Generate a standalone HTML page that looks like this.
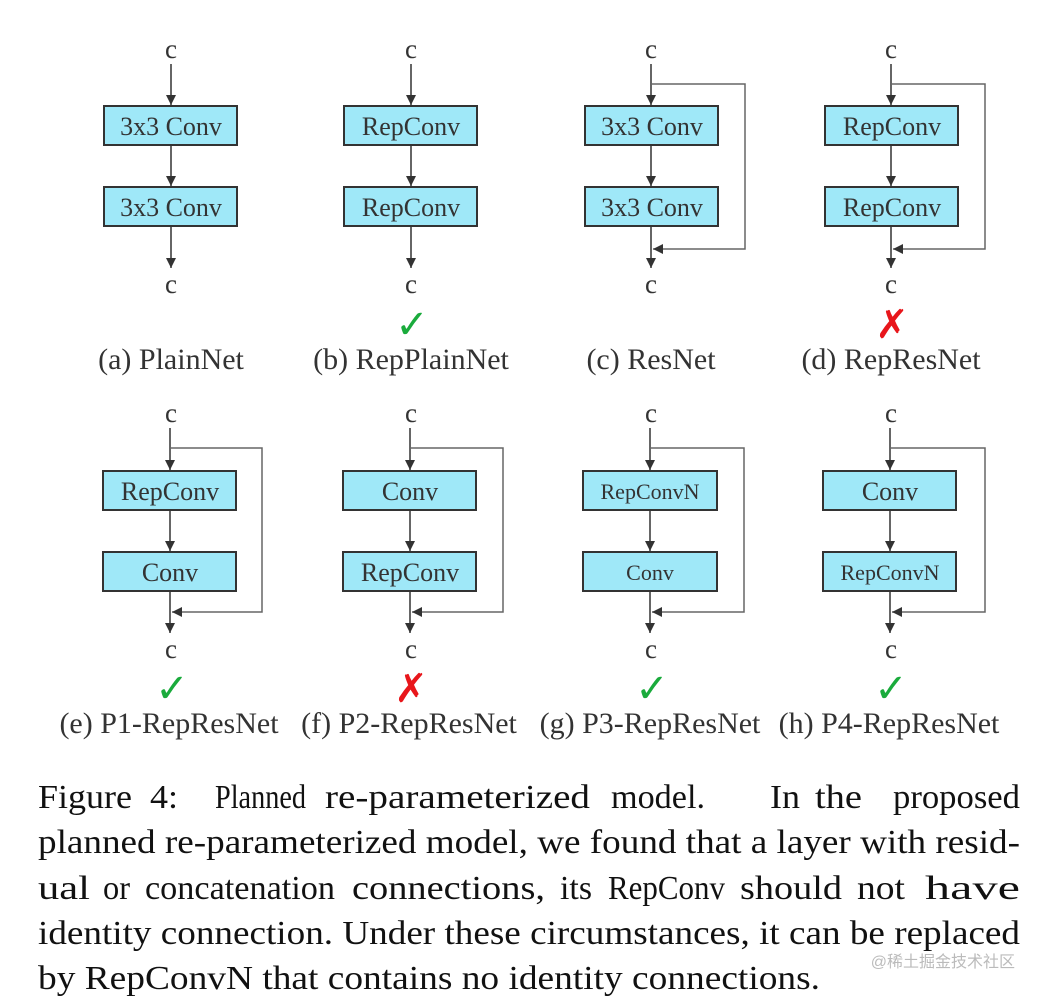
<!DOCTYPE html>
<html><head><meta charset="utf-8"><style>
html,body{margin:0;padding:0;background:#fff;}
svg{display:block;}
</style></head><body>
<svg width="1041" height="998" viewBox="0 0 1041 998" xmlns="http://www.w3.org/2000/svg">
<defs>
<marker id="ah" markerWidth="12" markerHeight="12" refX="10" refY="5" orient="auto" markerUnits="userSpaceOnUse">
<path d="M0,0 L10,5 L0,10 z" fill="#333"/>
</marker>
</defs>
<g font-family="'Liberation Serif', serif" fill="#333" stroke="none">
<g font-size="27" text-anchor="middle">
<text x="171" y="58">c</text><text x="411" y="58">c</text><text x="651" y="58">c</text><text x="891" y="58">c</text>
<text x="171" y="293">c</text><text x="411" y="293">c</text><text x="651" y="293">c</text><text x="891" y="293">c</text>
<text x="171" y="422">c</text><text x="411" y="422">c</text><text x="651" y="422">c</text><text x="891" y="422">c</text>
<text x="171" y="658">c</text><text x="411" y="658">c</text><text x="651" y="658">c</text><text x="891" y="658">c</text>
</g>
<g stroke="#333" stroke-width="1.5" fill="none" marker-end="url(#ah)">
<line x1="171" y1="64" x2="171" y2="105"/><line x1="171" y1="145" x2="171" y2="186"/><line x1="171" y1="226" x2="171" y2="268"/>
<line x1="411" y1="64" x2="411" y2="105"/><line x1="411" y1="145" x2="411" y2="186"/><line x1="411" y1="226" x2="411" y2="268"/>
<line x1="651" y1="64" x2="651" y2="105"/><line x1="651" y1="145" x2="651" y2="186"/><line x1="651" y1="226" x2="651" y2="268"/>
<line x1="891" y1="64" x2="891" y2="105"/><line x1="891" y1="145" x2="891" y2="186"/><line x1="891" y1="226" x2="891" y2="268"/>
<line x1="170" y1="428" x2="170" y2="470"/><line x1="170" y1="510" x2="170" y2="551"/><line x1="170" y1="591" x2="170" y2="633"/>
<line x1="410" y1="428" x2="410" y2="470"/><line x1="410" y1="510" x2="410" y2="551"/><line x1="410" y1="591" x2="410" y2="633"/>
<line x1="650" y1="428" x2="650" y2="470"/><line x1="650" y1="510" x2="650" y2="551"/><line x1="650" y1="591" x2="650" y2="633"/>
<line x1="890" y1="428" x2="890" y2="470"/><line x1="890" y1="510" x2="890" y2="551"/><line x1="890" y1="591" x2="890" y2="633"/>
</g>
<g stroke="#666" stroke-width="1.5" fill="none" marker-end="url(#ah)">
<polyline points="651,84 745,84 745,249 653,249"/>
<polyline points="891,84 985,84 985,249 893,249"/>
<polyline points="170,448 262,448 262,612 172,612"/>
<polyline points="410,448 503,448 503,612 412,612"/>
<polyline points="650,448 744,448 744,612 652,612"/>
<polyline points="890,448 985,448 985,612 892,612"/>
</g>
<g fill="#9fe8f8" stroke="#333" stroke-width="2">
<rect x="104" y="106" width="133" height="39"/><rect x="104" y="187" width="133" height="39"/>
<rect x="344" y="106" width="133" height="39"/><rect x="344" y="187" width="133" height="39"/>
<rect x="585" y="106" width="133" height="39"/><rect x="585" y="187" width="133" height="39"/>
<rect x="825" y="106" width="133" height="39"/><rect x="825" y="187" width="133" height="39"/>
<rect x="103" y="471" width="133" height="39"/><rect x="103" y="552" width="133" height="39"/>
<rect x="343" y="471" width="133" height="39"/><rect x="343" y="552" width="133" height="39"/>
<rect x="583" y="471" width="134" height="39"/><rect x="583" y="552" width="134" height="39"/>
<rect x="823" y="471" width="133" height="39"/><rect x="823" y="552" width="133" height="39"/>
</g>
<g font-size="26" text-anchor="middle">
<text x="171" y="135">3x3 Conv</text><text x="171" y="216">3x3 Conv</text>
<text x="411" y="135">RepConv</text><text x="411" y="216">RepConv</text>
<text x="652" y="135">3x3 Conv</text><text x="652" y="216">3x3 Conv</text>
<text x="892" y="135">RepConv</text><text x="892" y="216">RepConv</text>
<text x="170" y="500">RepConv</text><text x="170" y="581">Conv</text>
<text x="410" y="500">Conv</text><text x="410" y="581">RepConv</text>
<text x="650" y="499" font-size="22">RepConvN</text><text x="650" y="580" font-size="22">Conv</text>
<text x="890" y="500">Conv</text><text x="890" y="580" font-size="22">RepConvN</text>
</g>
<g font-size="30" text-anchor="middle">
<text x="171" y="369">(a) PlainNet</text>
<text x="411" y="369">(b) RepPlainNet</text>
<text x="651" y="369">(c) ResNet</text>
<text x="891" y="369">(d) RepResNet</text>
<text x="169" y="733">(e) P1-RepResNet</text>
<text x="409" y="733">(f) P2-RepResNet</text>
<text x="650" y="733">(g) P3-RepResNet</text>
<text x="889" y="733">(h) P4-RepResNet</text>
</g>
<g font-family="'DejaVu Sans', sans-serif" font-size="40" font-weight="bold" text-anchor="middle">
<text x="412" y="338" fill="#1aab3c">✓</text>
<text x="892" y="338" fill="#e8161b">✗</text>
<text x="172" y="702" fill="#1aab3c">✓</text>
<text x="411" y="702" fill="#e8161b">✗</text>
<text x="652" y="702" fill="#1aab3c">✓</text>
<text x="891" y="702" fill="#1aab3c">✓</text>
</g>
<g font-size="34" fill="#111">
<text x="38" y="808" textLength="94" lengthAdjust="spacingAndGlyphs">Figure</text>
<text x="150" y="808" textLength="28" lengthAdjust="spacingAndGlyphs">4:</text>
<text x="215" y="808" textLength="91" lengthAdjust="spacingAndGlyphs">Planned</text>
<text x="325" y="808" textLength="265" lengthAdjust="spacingAndGlyphs">re-parameterized</text>
<text x="611" y="808" textLength="94" lengthAdjust="spacingAndGlyphs">model.</text>
<text x="770" y="808" textLength="30" lengthAdjust="spacingAndGlyphs">In</text>
<text x="815" y="808" textLength="47" lengthAdjust="spacingAndGlyphs">the</text>
<text x="893" y="808" textLength="127" lengthAdjust="spacingAndGlyphs">proposed</text>
<text x="38" y="853" textLength="982" lengthAdjust="spacingAndGlyphs">planned re-parameterized model, we found that a layer with resid-</text>
<text x="38" y="899" textLength="52" lengthAdjust="spacingAndGlyphs">ual</text>
<text x="103" y="899" textLength="27" lengthAdjust="spacingAndGlyphs">or</text>
<text x="145" y="899" textLength="190" lengthAdjust="spacingAndGlyphs">concatenation</text>
<text x="352" y="899" textLength="193" lengthAdjust="spacingAndGlyphs">connections,</text>
<text x="560" y="899" textLength="32" lengthAdjust="spacingAndGlyphs">its</text>
<text x="608" y="899" textLength="117" lengthAdjust="spacingAndGlyphs">RepConv</text>
<text x="740" y="899" textLength="102" lengthAdjust="spacingAndGlyphs">should</text>
<text x="857" y="899" textLength="48" lengthAdjust="spacingAndGlyphs">not</text>
<text x="925" y="899" textLength="95" lengthAdjust="spacingAndGlyphs">have</text>
<text x="38" y="944" textLength="982" lengthAdjust="spacingAndGlyphs">identity connection. Under these circumstances, it can be replaced</text>
<text x="38" y="989" textLength="782" lengthAdjust="spacingAndGlyphs">by RepConvN that contains no identity connections.</text>
</g>
<text x="1015" y="967" font-family="'Liberation Sans', 'Noto Sans CJK SC', sans-serif" font-size="16" fill="#bbb" text-anchor="end">@稀土掘金技术社区</text>
</g>
</svg>
</body></html>
